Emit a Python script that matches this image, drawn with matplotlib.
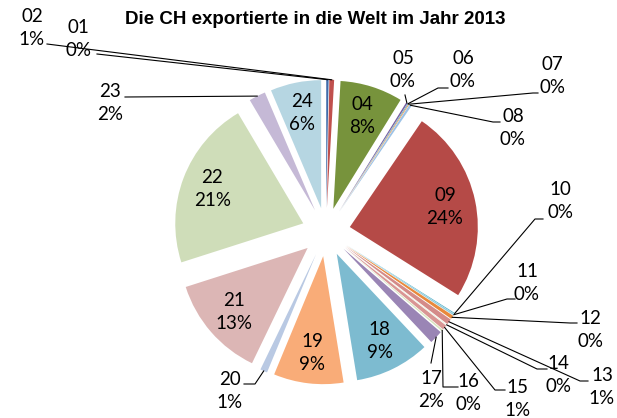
import matplotlib
matplotlib.use("Agg")
import numpy as np
import matplotlib.pyplot as plt

# ==========================
# DATA
# ==========================
codes = ["01", "02", "04", "05", "06", "07", "08", "09", "10", "11", "12", "13",
         "14", "15", "16", "17", "18", "19", "20", "21", "22", "23", "24"]
shares = [0.3, 0.6, 7.9, 0.2, 0.1, 0.1, 0.3, 24.4, 0.1, 0.2, 0.45, 0.7,
          0.1, 0.6, 0.2, 1.7, 9.45, 8.8, 0.9, 12.9, 21.4, 2.1, 6.4]
colors = ["#3F6BAA", "#C0504D", "#77933C", "#7A5FA0", "#4BACC6", "#F79646",
          "#9DC3E6", "#B54A47", "#4BACC6", "#93CDDD", "#E9893C", "#D48B89",
          "#EBF1DE", "#D99694", "#D7E4BD", "#9A85B5", "#7DBBD0", "#F9AC78",
          "#B9C9E3", "#DCB6B5", "#CFDDB9", "#C5B9D6", "#B6D6E2"]
title = "Die CH exportierte in die Welt im Jahr 2013"

# ==========================
# LAYOUT (pixels of the 617x418 picture)
# ==========================
W, H, DPI = 617, 418, 100
CX, CY, RPX = 326, 232, 128      # pie centre and radius in pixels
EXPLODE = 0.19
LABEL_DIST = 0.76
LABEL_FONT = ["Lato", "DejaVu Sans"]
LABEL_SIZE = 13.5

inside = ["04", "09", "18", "19", "21", "22", "24"]

# outside labels: text centre, then leader points from slice side to text side
outside = {
    "01": ((78, 39), [(97, 54)]),
    "02": ((32, 28), [(47, 44)]),
    "05": ((403, 70), [(405, 95)]),
    "06": ((463, 70), [(438, 88), (448, 88)]),
    "07": ((552, 76), [(533, 93), (538, 93)]),
    "08": ((513, 128), [(493, 122), (500, 122)]),
    "10": ((560, 201), [(535, 219), (543, 219)]),
    "11": ((527, 283), [(507, 299), (515, 299)]),
    "12": ((590, 330), [(570, 323), (577, 323)]),
    "13": ((602, 387), [(580, 381), (588, 381)]),
    "14": ((558, 375), [(537, 369), (547, 369)]),
    "15": ((517, 399), [(495, 390), (505, 390)]),
    "16": ((468, 393), [(443, 387), (458, 387)]),
    "17": ((431, 390), [(431, 363)]),
    "20": ((230, 391), [(255, 384), (244, 384)]),
    "23": ((110, 103), [(125, 97)]),
}


def px(p):
    return ((p[0] - CX) / RPX, (CY - p[1]) / RPX)


# ==========================
# FIGURE
# ==========================
fig = plt.figure(figsize=(W / DPI, H / DPI), dpi=DPI)
ax = fig.add_axes([0, 0, 1, 1])

wedges, _ = ax.pie(
    shares,
    explode=[EXPLODE] * len(shares),
    colors=colors,
    startangle=90,
    counterclock=False,
    radius=1,
    wedgeprops=dict(linewidth=0),
)

total = sum(shares)
for code, val, w in zip(codes, shares, wedges):
    ang = np.deg2rad((w.theta1 + w.theta2) / 2)
    u = np.array([np.cos(ang), np.sin(ang)])
    text = f"{code}\n{100 * val / total:.0f}%"
    if code in inside:
        pos = u * (EXPLODE + LABEL_DIST)
        ax.text(pos[0], pos[1], text, ha="center", va="center",
                family=LABEL_FONT, fontsize=LABEL_SIZE, linespacing=1.4)
    else:
        tpos, pts = outside[code]
        start = u * (EXPLODE + 1.0)
        line = [start] + [np.array(px(p)) for p in pts]
        xs = [p[0] for p in line]
        ys = [p[1] for p in line]
        ax.plot(xs, ys, color="black", linewidth=0.8)
        tx, ty = px(tpos)
        ax.text(tx, ty, text, ha="center", va="center",
                family=LABEL_FONT, fontsize=LABEL_SIZE, linespacing=1.4)

# ==========================
# TITLE
# ==========================
tx, ty = px((315, 20))
ax.text(tx, ty, title, ha="center", va="center",
        family="Liberation Sans", fontweight="bold", fontsize=13.5)

ax.set_xlim(-CX / RPX, (W - CX) / RPX)
ax.set_ylim((CY - H) / RPX, CY / RPX)
ax.set_aspect("auto")
ax.axis("off")

fig.savefig("out.png", dpi=DPI)
